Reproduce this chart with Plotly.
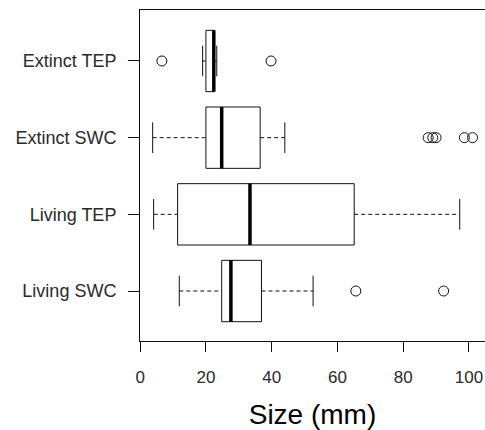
import plotly.graph_objects as go

# Group labels, listed bottom to top on the y axis
groups = ["Living SWC", "Living TEP", "Extinct SWC", "Extinct TEP"]

# Five-number summaries (mm) for each group, same order as `groups`
whisker_low = [11.9, 4.1, 3.8, 19.0]
q1 = [24.8, 11.4, 20.0, 20.0]
median = [27.6, 33.4, 24.8, 22.4]
q3 = [36.9, 65.1, 36.5, 22.6]
whisker_high = [52.6, 97.2, 44.0, 23.3]

# Points beyond the whiskers
outliers = [
    [65.6, 92.3],
    [],
    [87.6, 89.0, 90.0, 98.6, 101.1],
    [6.6, 39.8],
]

x_ticks = [0, 20, 40, 60, 80, 100]

BOX_HALF = 0.4      # half box height in category units
CAP_HALF = 0.2      # half staple height
INK = "#111111"
FONT = "Arial, Liberation Sans, sans-serif"

box_x, box_y = [], []
med_x, med_y = [], []
wh_x, wh_y = [], []
cap_x, cap_y = [], []
out_x, out_y = [], []

for i, name in enumerate(groups):
    pos = i + 1
    lo, hi = pos - BOX_HALF, pos + BOX_HALF
    box_x += [q1[i], q3[i], q3[i], q1[i], q1[i], None]
    box_y += [lo, lo, hi, hi, lo, None]
    med_x += [median[i], median[i], None]
    med_y += [lo, hi, None]
    wh_x += [whisker_low[i], q1[i], None, q3[i], whisker_high[i], None]
    wh_y += [pos, pos, None, pos, pos, None]
    for w in (whisker_low[i], whisker_high[i]):
        cap_x += [w, w, None]
        cap_y += [pos - CAP_HALF, pos + CAP_HALF, None]
    out_x += outliers[i]
    out_y += [pos] * len(outliers[i])

fig = go.Figure()
fig.add_trace(go.Scatter(x=wh_x, y=wh_y, mode="lines",
                         line=dict(color=INK, width=1, dash="4px,3px"),
                         hoverinfo="skip"))
fig.add_trace(go.Scatter(x=cap_x, y=cap_y, mode="lines",
                         line=dict(color=INK, width=1), hoverinfo="skip"))
fig.add_trace(go.Scatter(x=box_x, y=box_y, mode="lines",
                         line=dict(color=INK, width=1), hoverinfo="skip"))
fig.add_trace(go.Scatter(x=med_x, y=med_y, mode="lines",
                         line=dict(color="#000000", width=3.5), hoverinfo="skip"))
fig.add_trace(go.Scatter(x=out_x, y=out_y, mode="markers",
                         marker=dict(symbol="circle-open", size=10,
                                     color=INK, line=dict(width=1))))

fig.update_layout(
    width=485, height=430,
    margin=dict(l=140, r=0, t=10, b=89),
    paper_bgcolor="white", plot_bgcolor="white",
    showlegend=False,
    font=dict(family=FONT, color="#2a2a2a", size=16),
    xaxis=dict(
        range=[-0.05, 104.89],
        tickvals=x_ticks,
        ticktext=[str(v) for v in x_ticks],
        ticks="outside", ticklen=10, tickwidth=1, tickcolor=INK,
        showline=True, linecolor=INK, linewidth=1, mirror=True,
        showgrid=False, zeroline=False,
        tickfont=dict(size=17),
        ticklabelstandoff=11,
        title=dict(text="Size (mm)", font=dict(size=28, color="#000000"),
                   standoff=21),
    ),
    yaxis=dict(
        range=[0.348, 4.665],
        tickvals=list(range(1, len(groups) + 1)),
        ticktext=groups,
        ticks="outside", ticklen=11, tickwidth=1, tickcolor=INK,
        showline=True, linecolor=INK, linewidth=1, mirror=False,
        showgrid=False, zeroline=False,
        tickfont=dict(size=18),
        ticklabelstandoff=8,
    ),
)

fig.write_html("out.html")
